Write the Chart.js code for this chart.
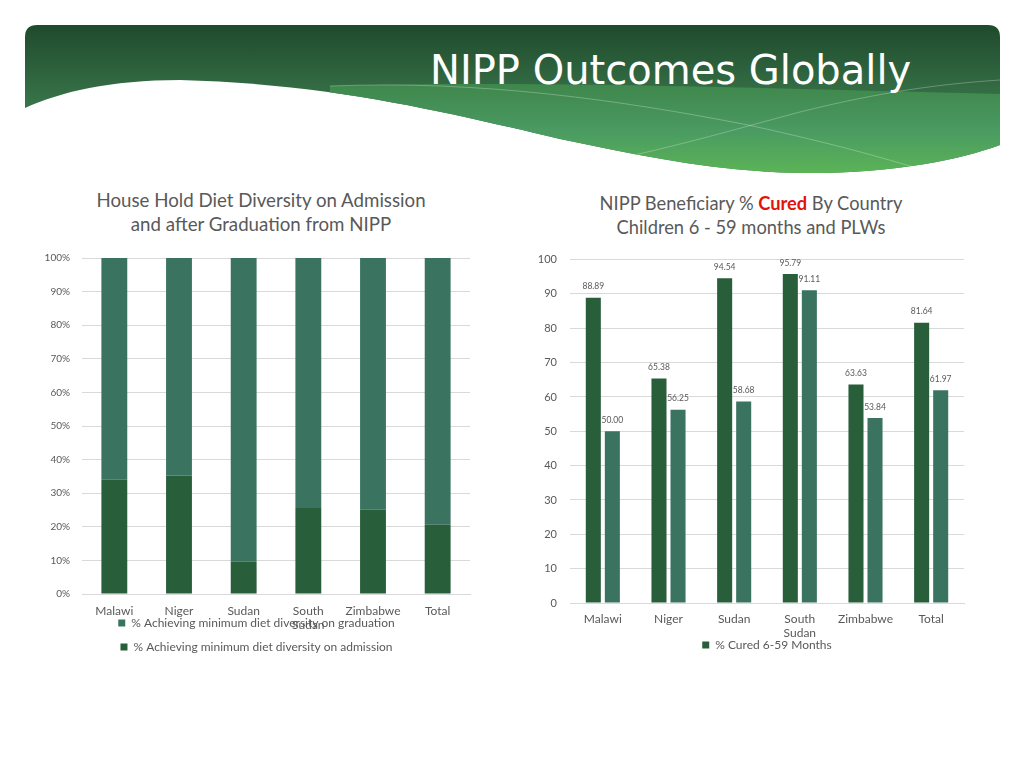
<!DOCTYPE html>
<html>
<head>
<meta charset="utf-8">
<script src="https://cdn.jsdelivr.net/npm/chart.js@4.4.0/dist/chart.umd.min.js"></script>
<style>
  body { margin: 0; width: 1024px; height: 768px; background: #fff; position: relative; overflow: hidden; font-family: Lato, "Open Sans", sans-serif; }
  #banner { position: absolute; left: 0; top: 0; }
  .slideTitle { position: absolute; left: 430px; top: 47px; font-family: "DejaVu Sans", sans-serif; font-size: 40px; color: #fff; white-space: nowrap; }
  .ctitle { position: absolute; text-align: center; color: #595959; line-height: 24px; white-space: nowrap; }
  .ctitle b { color: #e3120b; }
  canvas.chart { position: absolute; }
</style>
</head>
<body>
<svg id="banner" width="1024" height="200">
  <defs>
    <linearGradient id="gTop" x1="0" y1="25" x2="0" y2="120" gradientUnits="userSpaceOnUse">
      <stop offset="0" stop-color="#1f4a2c"/>
      <stop offset="1" stop-color="#3d7c4f"/>
    </linearGradient>
    <linearGradient id="gBand" x1="0" y1="85" x2="0" y2="175" gradientUnits="userSpaceOnUse">
      <stop offset="0" stop-color="#3f874d"/>
      <stop offset="0.5" stop-color="#4a9a62"/>
      <stop offset="1" stop-color="#5cb556"/>
    </linearGradient>
    <clipPath id="clipShape">
      <path d="M25,37 Q25,25 37,25 L988,25 Q1000,25 1000,37 L1000,145 C960,160 890,174 800,173 C720,172 640,156 560,139 C460,116 340,84 180,80 C110,80 60,92 25,108 Z"/>
    </clipPath>
  </defs>
  <g clip-path="url(#clipShape)">
    <rect x="0" y="0" width="1024" height="200" fill="url(#gTop)"/>
    <path d="M330,86 C520,80 760,88 1000,94 L1000,200 L330,200 Z" fill="url(#gBand)"/>
    <path d="M330,86 C480,80 620,100 748,125 C840,145 890,160 930,172" stroke="rgba(255,255,255,0.35)" stroke-width="0.8" fill="none"/>
    <path d="M630,156 C700,140 740,128 800,112 C880,92 940,84 1000,80" stroke="rgba(255,255,255,0.35)" stroke-width="0.8" fill="none"/>
  </g>
</svg>
<div class="slideTitle">NIPP Outcomes Globally</div>

<div class="ctitle" style="left:61px; width:400px; top:188px; font-size:18.7px;">House Hold Diet Diversity on Admission<br>and after Graduation from NIPP</div>
<div class="ctitle" style="left:551px; width:400px; top:191px; font-size:18.3px;">NIPP Beneficiary % <b>Cured</b> By Country<br>Children 6 - 59 months and PLWs</div>

<canvas class="chart" id="dietChart" style="left:29px; top:240px;"></canvas>
<canvas class="chart" id="curedChart" style="left:520px; top:240px;"></canvas>

<script>
// categorias
const countries = ['Malawi', 'Niger', 'Sudan', ['South', 'Sudan'], 'Zimbabwe', 'Total'];

// diet diversity (100% stacked)
const dietAdmission = [34.0, 35.3, 9.6, 25.6, 25.1, 20.6];
const dietGraduation = [66.0, 64.7, 90.4, 74.4, 74.9, 79.4];
const dietTicks = ['0%', '10%', '20%', '30%', '40%', '50%', '60%', '70%', '80%', '90%', '100%'];

// % cured
const curedChildren = [88.89, 65.38, 94.54, 95.79, 63.63, 81.64];
const curedPLW = [50.00, 56.25, 58.68, 91.11, 53.84, 61.97];

const darkGreen = '#285e3a';
const midGreen = '#3a7461';
const textGray = '#595959';
const gridGray = '#d9d9d9';
const fontFam = 'Lato, "Open Sans", sans-serif';

// etiquetas de valores encima de las barras
const barLabels = {
    id: 'barLabels',
    afterDatasetsDraw(chart) {
        const ctx = chart.ctx;
        ctx.save();
        ctx.font = '8.5px ' + fontFam;
        ctx.fillStyle = textGray;
        ctx.textAlign = 'center';
        ctx.textBaseline = 'bottom';
        chart.data.datasets.forEach((ds, i) => {
            chart.getDatasetMeta(i).data.forEach((bar, j) => {
                ctx.fillText(ds.data[j].toFixed(2), bar.x, bar.y - 7);
            });
        });
        ctx.restore();
    }
};

// los ticks del eje x no se recortan (la leyenda se solapa como en el original)
function noClip(scale) {
    scale._computeLabelArea = () => null;
}

function setSize(id, w, h) {
    const c = document.getElementById(id);
    c.width = w; c.height = h;
    c.style.width = w + 'px'; c.style.height = h + 'px';
    return c;
}

new Chart(setSize('dietChart', 473, 423), {
    type: 'bar',
    data: {
        labels: countries,
        datasets: [
            { label: '% Achieving minimum diet diversity on admission', data: dietAdmission, backgroundColor: darkGreen },
            { label: '% Achieving minimum diet diversity on graduation', data: dietGraduation, backgroundColor: midGreen }
        ]
    },
    options: {
        responsive: false,
        animation: false,
        layout: { padding: { left: 14, right: 32, top: 18, bottom: 0 } },
        datasets: { bar: { categoryPercentage: 0.5, barPercentage: 0.8 } },
        scales: {
            x: {
                stacked: true,
                grid: { display: false },
                border: { color: gridGray },
                ticks: { color: textGray, font: { family: fontFam, size: 12 }, padding: 2, maxRotation: 0, autoSkip: false },
                afterFit(scale) { scale.height = 11; noClip(scale); }
            },
            y: {
                stacked: true,
                min: 0, max: 100,
                grid: { color: gridGray, drawTicks: false },
                border: { display: false },
                ticks: {
                    stepSize: 10, padding: 12, color: textGray,
                    font: { family: fontFam, size: 10 },
                    callback: (v) => dietTicks[v / 10]
                },
                afterFit(scale) { scale.width = 39; }
            }
        },
        plugins: {
            legend: {
                position: 'bottom',
                reverse: true,
                labels: { boxWidth: 7, boxHeight: 7, padding: 12, color: textGray, font: { family: fontFam, size: 12 } }
            },
            tooltip: { enabled: false }
        }
    }
});

new Chart(setSize('curedChart', 460, 421), {
    type: 'bar',
    data: {
        labels: countries,
        datasets: [
            { label: '% Cured 6-59 Months', data: curedChildren, backgroundColor: darkGreen },
            { label: '% Cured PLWs', data: curedPLW, backgroundColor: midGreen }
        ]
    },
    plugins: [barLabels],
    options: {
        responsive: false,
        animation: false,
        layout: { padding: { left: 0, right: 16, top: 17, bottom: 0 } },
        datasets: { bar: { categoryPercentage: 0.58, barPercentage: 0.79 } },
        scales: {
            x: {
                grid: { display: false },
                border: { color: gridGray },
                ticks: { color: textGray, font: { family: fontFam, size: 12 }, padding: 1, maxRotation: 0, autoSkip: false },
                afterFit(scale) { scale.height = 24; noClip(scale); }
            },
            y: {
                min: 0, max: 100,
                grid: { color: gridGray, drawTicks: false },
                border: { display: false },
                ticks: { stepSize: 10, padding: 13, color: textGray, font: { family: fontFam, size: 11 } },
                afterFit(scale) { scale.width = 50; }
            }
        },
        plugins: {
            legend: {
                position: 'bottom',
                fullSize: false,
                labels: {
                    boxWidth: 7, boxHeight: 7, padding: 12, color: textGray,
                    font: { family: fontFam, size: 12 },
                    filter: (item) => item.datasetIndex === 0
                }
            },
            tooltip: { enabled: false }
        }
    }
});
</script>
</body>
</html>
